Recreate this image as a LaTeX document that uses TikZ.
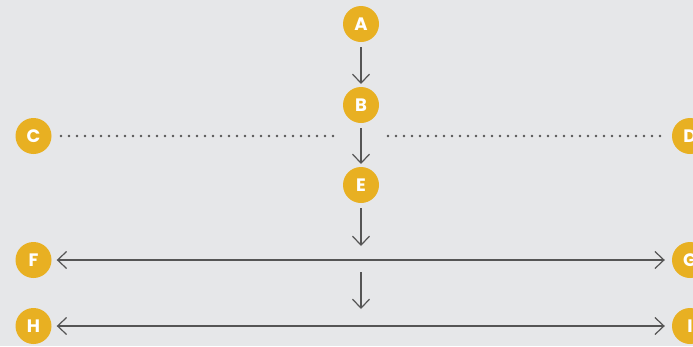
\documentclass[tikz,border=0pt]{standalone}
\usepackage{fontspec}
\setmainfont{Poppins}
\usetikzlibrary{arrows.meta}
\definecolor{bg}{HTML}{E6E7E9}
\definecolor{gold}{HTML}{E8B022}
\definecolor{ln}{HTML}{555555}
\begin{document}
\begin{tikzpicture}[x=1pt,y=-1pt,
  dot/.style={circle,fill=gold,minimum size=36pt,inner sep=0pt,text=white,font=\fontsize{18}{18}\selectfont\bfseries},
  conn/.style={draw=ln,line width=1.2pt},
  tip/.tip={Straight Barb[length=9pt,width=17pt,line width=1.2pt]},
  arr/.style={conn,-tip},
  darr/.style={conn,tip-tip,shorten <=5pt,shorten >=7pt},
  dots/.style={draw=ln,line width=2.6pt,line cap=round,dash pattern=on 0pt off 8pt}]
\fill[bg] (0,0) rectangle (693,346);
\useasboundingbox (0,0) rectangle (693,346);
\node[dot] (A) at (361,24) {A};
\node[dot] (B) at (361,105) {B};
\node[dot] (C) at (33.5,136) {C};
\node[dot] (D) at (690,136) {D};
\node[dot] (E) at (361,185) {E};
\node[dot] (F) at (33.5,260) {F};
\node[dot] (G) at (690,260) {G};
\node[dot] (H) at (33.5,326) {H};
\node[dot] (I) at (690,326) {I};
% dotted line endpoints
\coordinate (cl0) at (61,136);
\coordinate (cl1) at (333,136);
\coordinate (cr0) at (388,136);
\coordinate (cr1) at (661,136);
% arrow helper coordinates
\coordinate (a0) at (361,47);
\coordinate (a1) at (361,84);
\coordinate (b0) at (361,128);
\coordinate (b1) at (361,164);
\coordinate (e0) at (361,208);
\coordinate (e1) at (361,246);
\coordinate (m0) at (361,272);
\coordinate (m1) at (361,309);
\draw[arr] (a0) -- (a1);
\draw[arr] (b0) -- (b1);
\draw[arr] (e0) -- (e1);
\draw[arr] (m0) -- (m1);
\draw[dots] (cl0) -- (cl1);
\draw[dots] (cr0) -- (cr1);
\draw[darr] (F) -- (G);
\draw[darr] (H) -- (I);
\end{tikzpicture}
\end{document}
